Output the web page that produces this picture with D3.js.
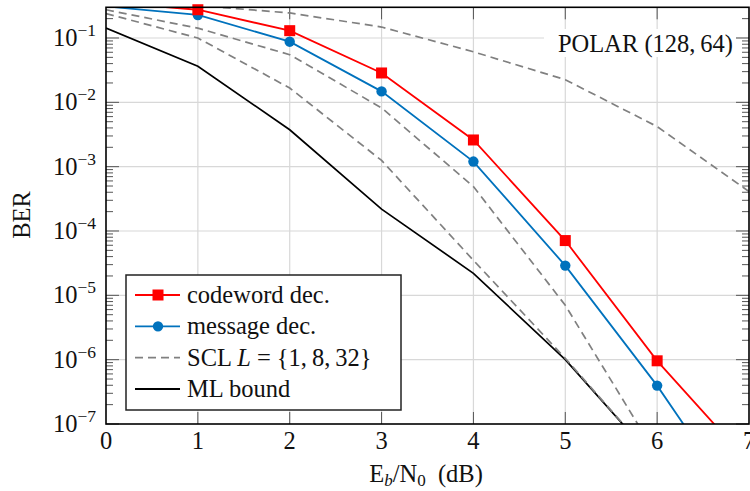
<!DOCTYPE html>
<html>
<head>
<meta charset="utf-8">
<script src="https://cdn.jsdelivr.net/npm/d3@7"></script>
<style>
  body { margin: 0; background: #fff; }
  text { font-family: "Liberation Serif", serif; fill: #111; }
</style>
</head>
<body>
<div class="ber-chart"></div>
<script>
// Eb/N0 points (dB)
const ebn0 = [0, 1, 2, 3, 4, 5, 6, 7];

// BER
const codewordBER = [0.36, 0.275, 0.13, 0.0286, 2.6e-3, 7.1e-5, 9.6e-7, 2.5e-8];
const messageBER  = [0.31, 0.228, 0.0876, 0.0148, 1.2e-3, 2.9e-5, 3.95e-7, 3.2e-9];
const sclL1BER    = [0.36, 0.32, 0.245, 0.148, 0.061, 0.0225, 4.2e-3, 4.1e-4];
const sclL8BER    = [0.275, 0.142, 0.055, 8.2e-3, 4.9e-4, 7e-6, 3.2e-8, 1e-10];
const sclL32BER   = [0.24, 0.1, 0.0167, 1.25e-3, 3.5e-5, 1.05e-6, 2.5e-8, 1e-10];
const mlBound     = [0.143, 0.0363, 3.75e-3, 2.19e-4, 2.2e-5, 1e-6, 2.5e-8, 1e-10];

const xTicks = [0, 1, 2, 3, 4, 5, 6, 7];
const yDecades = [-7, -6, -5, -4, -3, -2, -1];
const legendLabels = ["codeword dec.", "message dec.", "SCL", "ML bound"];

const width = 750, height = 491;
const mLeft = 106, mRight = 749, mTop = 7.3, mBottom = 424;
const fs = 24.5;

const svg = d3.select(".ber-chart").append("svg")
  .attr("width", width)
  .attr("height", height)
  .attr("viewBox", [0, 0, width, height]);

const x = d3.scaleLinear().domain([0, 7]).range([mLeft, mRight]);
const y = d3.scaleLog().domain([1e-7, 0.3]).range([mBottom, mTop]);

svg.append("defs").append("clipPath").attr("id", "plotclip")
  .append("rect")
  .attr("x", mLeft).attr("y", mTop)
  .attr("width", mRight - mLeft).attr("height", mBottom - mTop);

// grid
const grid = svg.append("g");
grid.selectAll(".vgrid").data(xTicks.slice(1, -1)).join("line")
  .attr("x1", d => x(d)).attr("x2", d => x(d))
  .attr("y1", mTop).attr("y2", mBottom)
  .attr("stroke", "#d8d8d8").attr("stroke-width", 1.2);
grid.selectAll(".hgrid").data(yDecades.slice(1)).join("line")
  .attr("x1", mLeft).attr("x2", mRight)
  .attr("y1", d => y(Math.pow(10, d))).attr("y2", d => y(Math.pow(10, d)))
  .attr("stroke", "#d8d8d8").attr("stroke-width", 1.2);

// ticks (inside, both sides)
const minorVals = [];
for (let e = -7; e <= -1; e++) {
  for (let m = 2; m <= 9; m++) {
    const v = m * Math.pow(10, e);
    if (v <= 0.3) minorVals.push(v);
  }
}
const ticks = svg.append("g").attr("stroke", "#555").attr("stroke-width", 1);
[mLeft, mRight].forEach(xe => {
  const dir = xe === mLeft ? 1 : -1;
  ticks.selectAll(null).data(minorVals).join("line")
    .attr("x1", xe).attr("x2", xe + dir * 7)
    .attr("y1", d => y(d)).attr("y2", d => y(d));
  ticks.selectAll(null).data(yDecades).join("line")
    .attr("x1", xe).attr("x2", xe + dir * 13)
    .attr("y1", d => y(Math.pow(10, d))).attr("y2", d => y(Math.pow(10, d)));
});
[mTop, mBottom].forEach(ye => {
  const dir = ye === mTop ? 1 : -1;
  ticks.selectAll(null).data(xTicks.slice(1, -1)).join("line")
    .attr("x1", d => x(d)).attr("x2", d => x(d))
    .attr("y1", ye).attr("y2", ye + dir * 12);
});

// curves
const line = d3.line()
  .x((d, i) => x(ebn0[i]))
  .y(d => y(d));

const plot = svg.append("g").attr("clip-path", "url(#plotclip)");

const series = [
  { values: sclL1BER, color: "#808080", dash: "8,5", width: 1.7 },
  { values: sclL8BER, color: "#808080", dash: "8,5", width: 1.7 },
  { values: mlBound, color: "#000", dash: null, width: 1.7 },
  { values: sclL32BER, color: "#808080", dash: "8,5", width: 1.7 },
  { values: messageBER, color: "#0072bd", dash: null, width: 1.8 },
  { values: codewordBER, color: "#ff0000", dash: null, width: 1.8 }
];

series.forEach(s => {
  plot.append("path")
    .datum(s.values)
    .attr("d", line)
    .attr("fill", "none")
    .attr("stroke", s.color)
    .attr("stroke-width", s.width)
    .attr("stroke-dasharray", s.dash);
});

const inDomain = (d) => d <= 0.3 && d >= 1e-7;

svg.append("g").selectAll("circle")
  .data(messageBER.map((v, i) => [ebn0[i], v]).filter(d => inDomain(d[1])))
  .join("circle")
  .attr("cx", d => x(d[0])).attr("cy", d => y(d[1]))
  .attr("r", 5.2).attr("fill", "#0072bd");

svg.append("g").selectAll("rect")
  .data(codewordBER.map((v, i) => [ebn0[i], v]).filter(d => inDomain(d[1])))
  .join("rect")
  .attr("x", d => x(d[0]) - 5.5).attr("y", d => y(d[1]) - 5.5)
  .attr("width", 11).attr("height", 11).attr("fill", "#ff0000");

// frame
svg.append("rect")
  .attr("x", mLeft).attr("y", mTop)
  .attr("width", mRight - mLeft).attr("height", mBottom - mTop)
  .attr("fill", "none").attr("stroke", "#000").attr("stroke-width", 1.6);

// tick labels
svg.append("g").selectAll("text").data(xTicks).join("text")
  .attr("x", d => x(d)).attr("y", 449)
  .attr("text-anchor", "middle")
  .attr("font-size", fs)
  .text(d => d);

const yl = svg.append("g").selectAll("text").data(yDecades).join("text")
  .attr("x", 96).attr("y", d => y(Math.pow(10, d)) + 8)
  .attr("text-anchor", "end")
  .attr("font-size", fs);
yl.append("tspan").text("10");
yl.append("tspan").attr("font-size", 17.5).attr("dy", -10).text(d => "\u2212" + (-d));

// axis titles
const xt = svg.append("text")
  .attr("x", 426).attr("y", 482)
  .attr("text-anchor", "middle")
  .attr("font-size", fs);
xt.append("tspan").text("E");
xt.append("tspan").attr("font-size", 17).attr("font-style", "italic").attr("dy", 4).text("b");
xt.append("tspan").attr("dy", -4).text("/N");
xt.append("tspan").attr("font-size", 17).attr("dy", 4).text("0");
xt.append("tspan").attr("dy", -4).text("\u2002(dB)");

svg.append("text")
  .attr("transform", "translate(30,215) rotate(-90)")
  .attr("text-anchor", "middle")
  .attr("font-size", fs)
  .text("BER");

// code label
svg.append("rect")
  .attr("x", 544).attr("y", 29).attr("width", 192).attr("height", 28)
  .attr("fill", "#fff");
svg.append("text")
  .attr("x", 733).attr("y", 52)
  .attr("text-anchor", "end")
  .attr("font-size", fs)
  .text("POLAR (128,\u200964)");

// legend
const lg = svg.append("g");
lg.append("rect")
  .attr("x", 126).attr("y", 275).attr("width", 275).attr("height", 135)
  .attr("fill", "#fff").attr("stroke", "#222").attr("stroke-width", 1.5);

const legendY = d3.scalePoint().domain(legendLabels).range([295, 389]);
const legendStyle = [
  { color: "#ff0000", dash: null, marker: "square" },
  { color: "#0072bd", dash: null, marker: "circle" },
  { color: "#808080", dash: "8,5", marker: null },
  { color: "#000", dash: null, marker: null }
];

legendLabels.forEach((lab, i) => {
  const yy = legendY(lab);
  const st = legendStyle[i];
  lg.append("line")
    .attr("x1", 135).attr("x2", 180).attr("y1", yy).attr("y2", yy)
    .attr("stroke", st.color).attr("stroke-width", 1.8)
    .attr("stroke-dasharray", st.dash);
  if (st.marker === "square") {
    lg.append("rect").attr("x", 152.5).attr("y", yy - 5.5)
      .attr("width", 11).attr("height", 11).attr("fill", st.color);
  } else if (st.marker === "circle") {
    lg.append("circle").attr("cx", 158).attr("cy", yy).attr("r", 5.2).attr("fill", st.color);
  }
  const t = lg.append("text").attr("x", 187).attr("y", yy + 8).attr("font-size", fs);
  if (lab === "SCL") {
    t.append("tspan").text("SCL ");
    t.append("tspan").attr("font-style", "italic").text("L");
    t.append("tspan").text(" = {1,\u20098,\u200932}");
  } else {
    t.text(lab);
  }
});
</script>
</body>
</html>
